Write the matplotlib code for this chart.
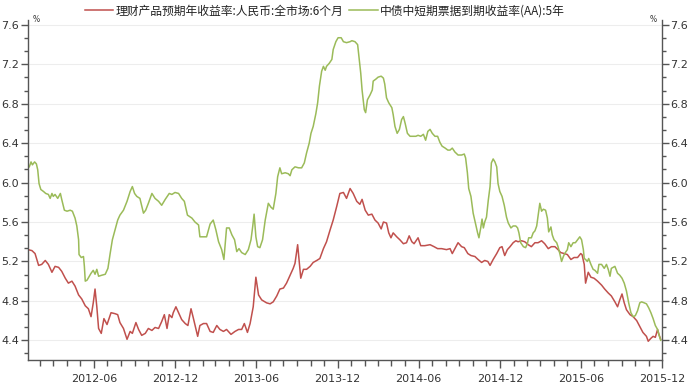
import numpy as np
import pandas as pd
import matplotlib
matplotlib.use('Agg')
import matplotlib.pyplot as plt
import matplotlib.dates as mdates
from matplotlib.ticker import MultipleLocator

# 中债中短期票据到期收益率(AA):5年
green_dates = [
    '2012-01-04', '2012-01-07', '2012-01-11', '2012-01-14', '2012-01-19', '2012-01-23', '2012-01-26', '2012-01-29',
    '2012-02-02', '2012-02-08', '2012-02-13', '2012-02-19', '2012-02-23', '2012-02-27', '2012-03-01', '2012-03-05',
    '2012-03-11', '2012-03-17', '2012-03-20', '2012-03-26', '2012-04-01', '2012-04-08', '2012-04-13', '2012-04-19',
    '2012-04-23', '2012-04-27', '2012-04-28', '2012-05-03', '2012-05-08', '2012-05-10', '2012-05-12', '2012-05-16',
    '2012-05-21', '2012-05-25', '2012-05-30', '2012-06-03', '2012-06-07', '2012-06-11', '2012-06-18', '2012-06-26',
    '2012-07-02', '2012-07-07', '2012-07-12', '2012-07-18', '2012-07-24', '2012-07-29', '2012-08-06', '2012-08-14',
    '2012-08-21', '2012-08-26', '2012-08-31', '2012-09-05', '2012-09-12', '2012-09-20', '2012-09-25', '2012-10-01',
    '2012-10-09', '2012-10-16', '2012-10-24', '2012-10-31', '2012-11-08', '2012-11-17', '2012-11-23', '2012-11-30',
    '2012-12-08', '2012-12-15', '2012-12-21', '2012-12-28',
    '2013-01-07', '2013-01-14', '2013-01-22', '2013-01-25', '2013-02-02', '2013-02-09', '2013-02-17', '2013-02-24',
    '2013-03-02', '2013-03-08', '2013-03-15', '2013-03-20', '2013-03-26', '2013-04-01', '2013-04-07', '2013-04-13',
    '2013-04-18', '2013-04-23', '2013-04-29', '2013-05-07', '2013-05-14', '2013-05-20', '2013-05-24', '2013-05-27',
    '2013-05-31', '2013-06-04', '2013-06-09', '2013-06-15', '2013-06-21', '2013-06-28', '2013-07-04', '2013-07-09',
    '2013-07-15', '2013-07-19', '2013-07-24', '2013-07-28', '2013-08-05', '2013-08-12', '2013-08-16', '2013-08-20',
    '2013-08-27', '2013-09-04', '2013-09-11', '2013-09-17', '2013-09-22', '2013-09-28', '2013-10-02', '2013-10-07',
    '2013-10-13', '2013-10-17', '2013-10-21', '2013-10-26', '2013-10-30', '2013-11-03', '2013-11-06', '2013-11-12',
    '2013-11-18', '2013-11-21', '2013-11-27', '2013-12-02', '2013-12-09', '2013-12-14', '2013-12-21', '2013-12-29',
    '2014-01-02', '2014-01-09', '2014-01-15', '2014-01-18', '2014-01-22', '2014-01-25', '2014-01-30', '2014-02-02',
    '2014-02-06', '2014-02-12', '2014-02-17', '2014-02-19', '2014-02-25', '2014-03-02', '2014-03-09', '2014-03-14',
    '2014-03-17', '2014-03-21', '2014-03-26', '2014-04-02', '2014-04-05', '2014-04-09', '2014-04-14', '2014-04-19',
    '2014-04-24', '2014-04-28', '2014-05-02', '2014-05-07', '2014-05-13', '2014-05-20', '2014-05-26', '2014-05-31',
    '2014-06-06', '2014-06-12', '2014-06-17', '2014-06-22', '2014-06-27', '2014-07-02', '2014-07-08', '2014-07-14',
    '2014-07-19', '2014-07-24', '2014-07-31', '2014-08-06', '2014-08-11', '2014-08-16', '2014-08-22', '2014-08-29',
    '2014-09-06', '2014-09-12', '2014-09-15', '2014-09-19', '2014-09-22', '2014-09-27', '2014-10-02', '2014-10-07',
    '2014-10-12', '2014-10-15', '2014-10-19', '2014-10-22', '2014-10-25', '2014-10-28', '2014-11-01', '2014-11-05',
    '2014-11-09', '2014-11-12', '2014-11-16', '2014-11-20', '2014-11-24', '2014-11-27', '2014-12-01', '2014-12-06',
    '2014-12-11', '2014-12-16', '2014-12-20', '2014-12-26', '2014-12-31',
    '2015-01-06', '2015-01-10', '2015-01-13', '2015-01-17', '2015-01-23', '2015-01-28', '2015-02-01', '2015-02-04',
    '2015-02-10', '2015-02-14', '2015-02-18', '2015-02-22', '2015-02-25', '2015-03-01', '2015-03-05', '2015-03-09',
    '2015-03-14', '2015-03-18', '2015-03-21', '2015-03-26', '2015-03-29', '2015-04-02', '2015-04-08', '2015-04-11',
    '2015-04-15', '2015-04-19', '2015-04-23', '2015-04-26', '2015-05-02', '2015-05-05', '2015-05-10', '2015-05-15',
    '2015-05-20', '2015-05-25', '2015-05-30', '2015-06-03', '2015-06-07', '2015-06-09', '2015-06-12', '2015-06-16',
    '2015-06-19', '2015-06-24', '2015-06-29', '2015-07-03', '2015-07-09', '2015-07-12', '2015-07-18', '2015-07-24',
    '2015-07-29', '2015-08-02', '2015-08-06', '2015-08-09', '2015-08-17', '2015-08-23', '2015-08-28', '2015-09-02',
    '2015-09-07', '2015-09-12', '2015-09-17', '2015-09-22', '2015-09-27', '2015-10-02', '2015-10-07', '2015-10-12',
    '2015-10-16', '2015-10-22', '2015-10-27', '2015-11-01', '2015-11-06', '2015-11-11', '2015-11-16', '2015-11-21',
    '2015-11-24', '2015-11-28',
]
green_vals = [
    6.15, 6.16, 6.21, 6.18, 6.21, 6.19, 6.13, 5.99,
    5.93, 5.91, 5.89, 5.88, 5.84, 5.89, 5.86, 5.88,
    5.84, 5.89, 5.83, 5.72, 5.71, 5.72, 5.71, 5.64,
    5.56, 5.42, 5.27, 5.24, 5.25, 5.15, 5.00, 5.01,
    5.05, 5.08, 5.11, 5.07, 5.12, 5.05, 5.06, 5.07,
    5.13, 5.28, 5.42, 5.52, 5.62, 5.67, 5.72, 5.81,
    5.91, 5.96, 5.89, 5.86, 5.84, 5.69, 5.72, 5.79,
    5.89, 5.84, 5.81, 5.77, 5.83, 5.89, 5.88, 5.90,
    5.89, 5.84, 5.81, 5.67,
    5.64, 5.60, 5.57, 5.45, 5.45, 5.45, 5.58, 5.62,
    5.52, 5.40, 5.32, 5.22, 5.54, 5.54, 5.47, 5.42,
    5.30, 5.33, 5.29, 5.27, 5.32, 5.42, 5.56, 5.68,
    5.45, 5.35, 5.34, 5.42, 5.62, 5.79, 5.75, 5.73,
    5.89, 6.06, 6.15, 6.09, 6.10, 6.09, 6.07, 6.13,
    6.16, 6.15, 6.15, 6.20, 6.30, 6.40, 6.50, 6.57,
    6.70, 6.81, 6.98, 7.13, 7.18, 7.14, 7.18, 7.21,
    7.25, 7.35, 7.43, 7.47, 7.47, 7.43, 7.42, 7.43,
    7.44, 7.43, 7.40, 7.28, 7.11, 6.94, 6.74, 6.71,
    6.84, 6.89, 6.94, 7.03, 7.05, 7.07, 7.08, 7.06,
    7.00, 6.86, 6.81, 6.76, 6.69, 6.57, 6.50, 6.54,
    6.64, 6.67, 6.60, 6.50, 6.47, 6.47, 6.47, 6.48,
    6.47, 6.49, 6.43, 6.52, 6.54, 6.50, 6.47, 6.47,
    6.41, 6.37, 6.35, 6.33, 6.33, 6.35, 6.31, 6.28,
    6.28, 6.29, 6.25, 6.10, 5.94, 5.86, 5.69, 5.59,
    5.49, 5.44, 5.54, 5.63, 5.54, 5.60, 5.65, 5.82,
    5.96, 6.20, 6.24, 6.21, 6.16, 5.99, 5.91, 5.86,
    5.77, 5.65, 5.59, 5.54, 5.56,
    5.56, 5.54, 5.49, 5.39, 5.35, 5.34, 5.38, 5.44,
    5.44, 5.49, 5.51, 5.56, 5.66, 5.79, 5.71, 5.73,
    5.72, 5.64, 5.50, 5.55, 5.47, 5.42, 5.39, 5.35,
    5.28, 5.20, 5.25, 5.28, 5.32, 5.39, 5.35, 5.39,
    5.39, 5.42, 5.45, 5.42, 5.32, 5.23, 5.22, 5.20,
    5.23, 5.17, 5.12, 5.11, 5.08, 5.17, 5.17, 5.13,
    5.17, 5.12, 5.05, 5.13, 5.15, 5.08, 5.06, 5.03,
    4.98, 4.90, 4.78, 4.68, 4.64, 4.65, 4.70, 4.78,
    4.79, 4.78, 4.77, 4.73, 4.68, 4.62, 4.55, 4.51,
    4.46, 4.40,
]

# 理财产品预期年收益率:人民币:全市场:6个月
red_dates = [
    '2012-01-04', '2012-01-13', '2012-01-20', '2012-01-28', '2012-02-04', '2012-02-12', '2012-02-19', '2012-02-27',
    '2012-03-05', '2012-03-13', '2012-03-20', '2012-03-28', '2012-04-04', '2012-04-12', '2012-04-19', '2012-04-27',
    '2012-05-04', '2012-05-12', '2012-05-19', '2012-05-25', '2012-05-30', '2012-06-03', '2012-06-07', '2012-06-11',
    '2012-06-17', '2012-06-23', '2012-06-30', '2012-07-09', '2012-07-18', '2012-07-24', '2012-07-29', '2012-08-06',
    '2012-08-14', '2012-08-21', '2012-08-26', '2012-09-03', '2012-09-09', '2012-09-16', '2012-09-24', '2012-10-01',
    '2012-10-09', '2012-10-16', '2012-10-24', '2012-10-31', '2012-11-06', '2012-11-12', '2012-11-17', '2012-11-23',
    '2012-11-26', '2012-12-02', '2012-12-08', '2012-12-15', '2012-12-23', '2012-12-29',
    '2013-01-05', '2013-01-10', '2013-01-20', '2013-01-25', '2013-02-02', '2013-02-09', '2013-02-17', '2013-02-24',
    '2013-03-04', '2013-03-11', '2013-03-19', '2013-03-26', '2013-04-05', '2013-04-14', '2013-04-22', '2013-04-29',
    '2013-05-05', '2013-05-12', '2013-05-18', '2013-05-25', '2013-05-31', '2013-06-06', '2013-06-13', '2013-06-24',
    '2013-07-02', '2013-07-09', '2013-07-17', '2013-07-24', '2013-08-01', '2013-08-08', '2013-08-16', '2013-08-23',
    '2013-08-27', '2013-09-02', '2013-09-09', '2013-09-15', '2013-09-22', '2013-09-30', '2013-10-07', '2013-10-15',
    '2013-10-22', '2013-10-30', '2013-11-06', '2013-11-14', '2013-11-21', '2013-11-29', '2013-12-06', '2013-12-14',
    '2013-12-21', '2013-12-29',
    '2014-01-05', '2014-01-13', '2014-01-20', '2014-01-25', '2014-02-01', '2014-02-08', '2014-02-16', '2014-02-23',
    '2014-03-02', '2014-03-09', '2014-03-14', '2014-03-21', '2014-03-26', '2014-03-31', '2014-04-05', '2014-04-13',
    '2014-04-20', '2014-04-28', '2014-05-05', '2014-05-11', '2014-05-17', '2014-05-22', '2014-05-28', '2014-05-31',
    '2014-06-06', '2014-06-15', '2014-06-27', '2014-07-06', '2014-07-14', '2014-07-23', '2014-08-03', '2014-08-11',
    '2014-08-16', '2014-08-22', '2014-08-29', '2014-09-06', '2014-09-12', '2014-09-20', '2014-09-27', '2014-10-06',
    '2014-10-13', '2014-10-21', '2014-10-28', '2014-11-04', '2014-11-09', '2014-11-16', '2014-11-24', '2014-12-01',
    '2014-12-06', '2014-12-12', '2014-12-18', '2014-12-24', '2014-12-31',
    '2015-01-06', '2015-01-11', '2015-01-19', '2015-01-26', '2015-02-03', '2015-02-10', '2015-02-18', '2015-02-25',
    '2015-03-05', '2015-03-12', '2015-03-20', '2015-03-27', '2015-04-04', '2015-04-11', '2015-04-17', '2015-04-25',
    '2015-05-02', '2015-05-10', '2015-05-17', '2015-05-25', '2015-06-01', '2015-06-04', '2015-06-09', '2015-06-12',
    '2015-06-18', '2015-06-24', '2015-07-01', '2015-07-09', '2015-07-18', '2015-07-25', '2015-08-02', '2015-08-09',
    '2015-08-17', '2015-08-23', '2015-08-28', '2015-09-02', '2015-09-07', '2015-09-12', '2015-09-20', '2015-09-27',
    '2015-10-05', '2015-10-12', '2015-10-19', '2015-10-27', '2015-10-31', '2015-11-06', '2015-11-11', '2015-11-16',
    '2015-11-21', '2015-11-24', '2015-11-28',
]
red_vals = [
    5.32, 5.31, 5.28, 5.16, 5.17, 5.21, 5.17, 5.09,
    5.15, 5.14, 5.10, 5.03, 4.98, 5.00, 4.95, 4.86,
    4.82, 4.75, 4.72, 4.64, 4.78, 4.92, 4.74, 4.52,
    4.47, 4.62, 4.56, 4.68, 4.67, 4.66, 4.58, 4.52,
    4.41, 4.49, 4.47, 4.58, 4.51, 4.45, 4.47, 4.52,
    4.50, 4.53, 4.52, 4.59, 4.66, 4.52, 4.66, 4.63,
    4.68, 4.74, 4.68, 4.61, 4.57, 4.55,
    4.72, 4.63, 4.44, 4.55, 4.57, 4.57, 4.49, 4.48,
    4.55, 4.51, 4.49, 4.51, 4.46, 4.49, 4.51, 4.51,
    4.57, 4.48, 4.57, 4.74, 5.04, 4.86, 4.81, 4.78,
    4.77, 4.79, 4.85, 4.92, 4.93, 4.98, 5.06, 5.13,
    5.18, 5.37, 5.03, 5.12, 5.12, 5.15, 5.19, 5.21,
    5.23, 5.33, 5.40, 5.52, 5.62, 5.76, 5.89, 5.90,
    5.84, 5.94,
    5.89, 5.81, 5.78, 5.83, 5.72, 5.67, 5.68, 5.62,
    5.59, 5.53, 5.60, 5.59, 5.49, 5.44, 5.49, 5.45,
    5.42, 5.38, 5.39, 5.46, 5.40, 5.38, 5.42, 5.44,
    5.36, 5.36, 5.37, 5.35, 5.33, 5.33, 5.32, 5.33,
    5.28, 5.33, 5.39, 5.35, 5.34, 5.28, 5.26, 5.25,
    5.22, 5.19, 5.21, 5.20, 5.16, 5.22, 5.28, 5.34,
    5.35, 5.26, 5.32, 5.35, 5.39,
    5.41, 5.40, 5.41, 5.40, 5.37, 5.35, 5.39, 5.39,
    5.41, 5.38, 5.33, 5.35, 5.35, 5.32, 5.29, 5.28,
    5.27, 5.22, 5.24, 5.24, 5.28, 5.27, 5.17, 4.98,
    5.09, 5.04, 5.03, 5.00, 4.96, 4.92, 4.88, 4.85,
    4.79, 4.74, 4.81, 4.87, 4.78, 4.71, 4.66, 4.64,
    4.60, 4.54, 4.48, 4.44, 4.39, 4.42, 4.44, 4.43,
    4.51, 4.46, 4.41,
]

red_label = '理财产品预期年收益率:人民币:全市场:6个月'
green_label = '中债中短期票据到期收益率(AA):5年'

plt.rcParams['font.family'] = ['DejaVu Sans']

fig = plt.figure(figsize=(6.92, 3.91), dpi=100)
ax = fig.add_axes([27.5 / 692, 1 - 360 / 391, (662 - 27.5) / 692, 340 / 391])

ax.plot(pd.to_datetime(red_dates), red_vals, color='#C0504D', lw=1.1, label=red_label)
ax.plot(pd.to_datetime(green_dates), green_vals, color='#9BBB59', lw=1.1, label=green_label)

ax.set_xlim(pd.Timestamp('2012-01-03'), pd.Timestamp('2015-12-01'))
ax.set_ylim(4.2, 7.65)

# axes styling
axis_col = '#555555'
for s in ['left', 'right', 'bottom']:
    ax.spines[s].set_color(axis_col)
    ax.spines[s].set_linewidth(1.0)
ax.spines['top'].set_visible(False)

ax.yaxis.set_major_locator(MultipleLocator(0.4))
ax.yaxis.set_minor_locator(MultipleLocator(0.4 / 3))
ax.xaxis.set_major_locator(mdates.MonthLocator(bymonth=[6, 12]))
ax.xaxis.set_minor_locator(mdates.MonthLocator())
ax.xaxis.set_major_formatter(mdates.DateFormatter('%Y-%m'))

ax.tick_params(axis='both', which='both', direction='out', colors=axis_col,
               labelcolor='#333333', labelsize=8)
ax.tick_params(axis='y', which='both', left=True, right=True, labelleft=True, labelright=True)
ax.tick_params(axis='y', which='major', length=5, width=1, pad=1)
ax.tick_params(axis='y', which='minor', length=3, width=1)
ax.tick_params(axis='x', which='major', length=6, width=1, pad=4)
ax.tick_params(axis='x', which='minor', length=4, width=1)

ax.yaxis.grid(True, which='major', color='#EDEDED', lw=0.8)
ax.set_axisbelow(True)

ax.text(0.008, 1.0, '%', transform=ax.transAxes, fontsize=5.5, color='#333333',
        ha='left', va='center')
ax.text(0.992, 1.0, '%', transform=ax.transAxes, fontsize=5.5, color='#333333',
        ha='right', va='center')

ax.legend(loc='center', bbox_to_anchor=(325 / 692, 1 - 11 / 391), bbox_transform=fig.transFigure,
          ncol=2, frameon=False, handlelength=2.4, handletextpad=0.2, columnspacing=0.5,
          prop={'family': ['Noto Sans CJK SC', 'DejaVu Sans'], 'size': 8.5}, labelcolor='#222222')

fig.savefig('out.png', dpi=100)
